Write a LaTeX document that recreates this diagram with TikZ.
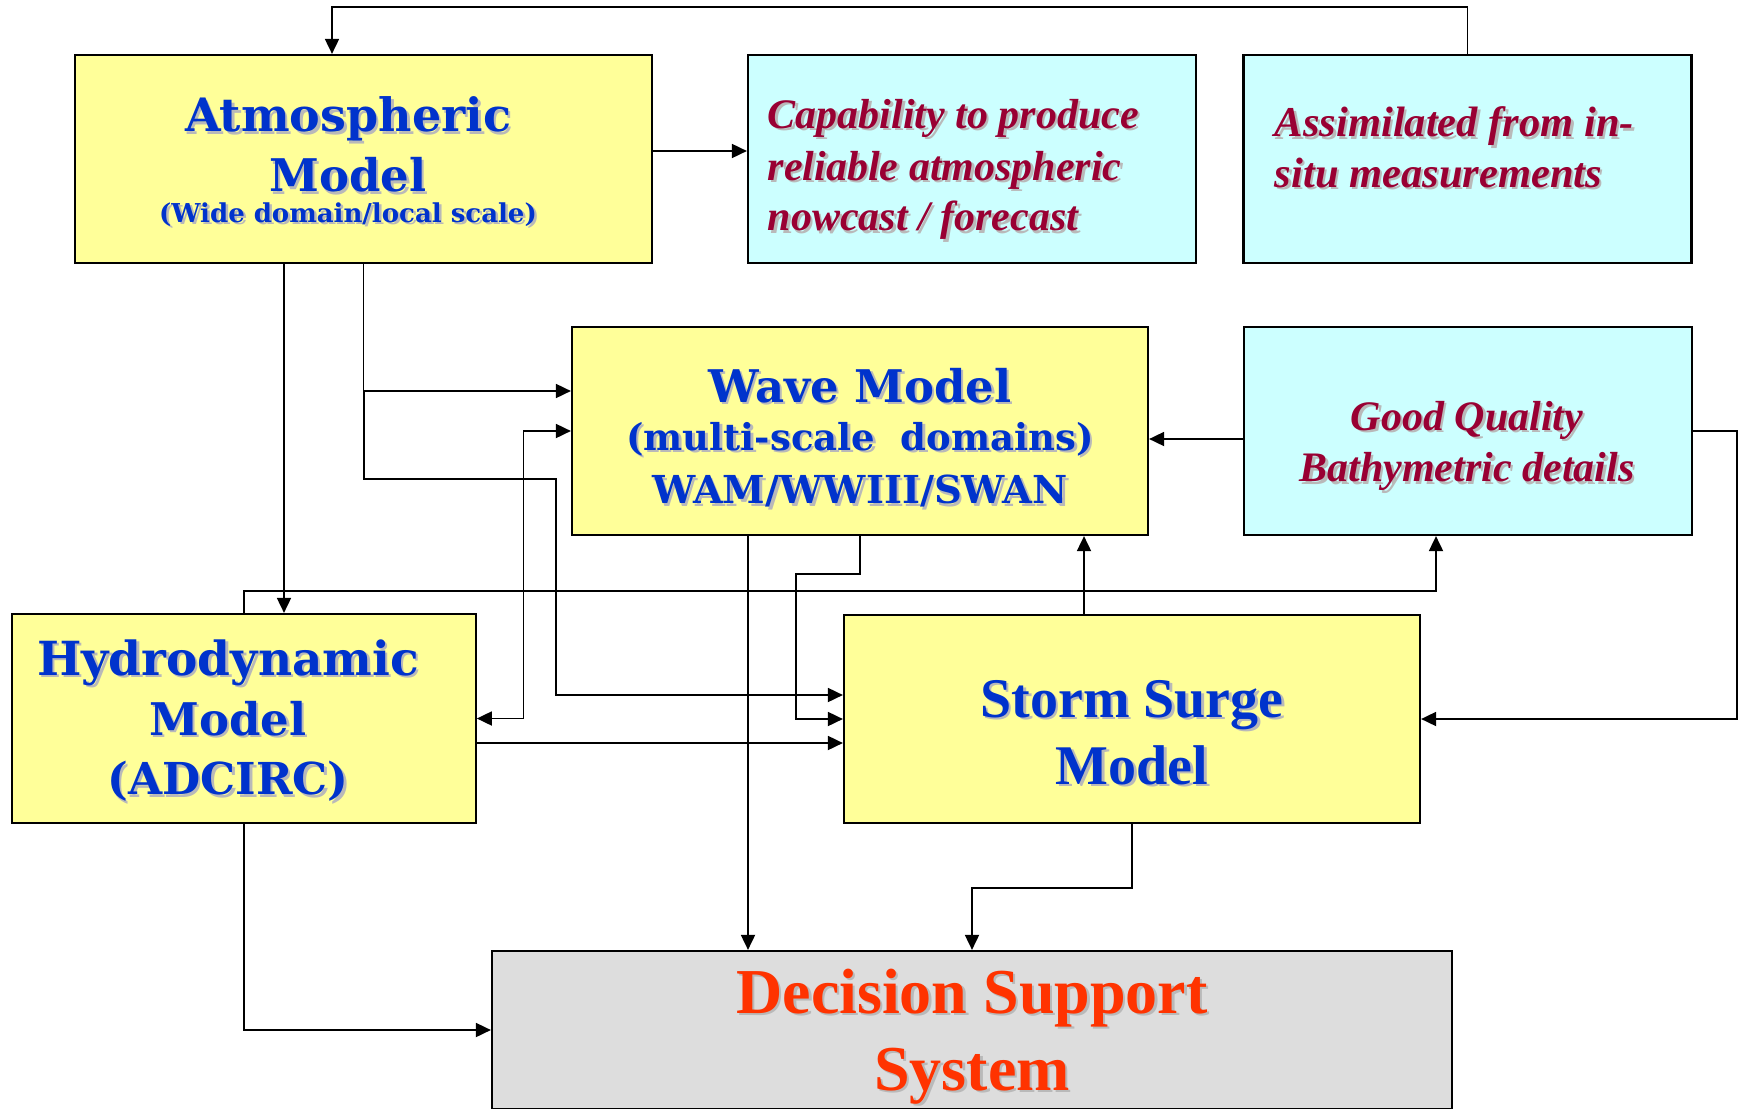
\documentclass[tikz,border=0pt]{standalone}
\usepackage{fontspec}
\setmainfont{Liberation Serif}
\newfontfamily\slabfont{DejaVu Serif}
\usetikzlibrary{arrows.meta}
\definecolor{boxYel}{RGB}{255,255,153}
\definecolor{boxCyan}{RGB}{204,255,255}
\definecolor{boxGray}{RGB}{221,221,221}
\definecolor{tBlue}{RGB}{0,51,204}
\definecolor{tWine}{RGB}{153,0,51}
\definecolor{tFire}{RGB}{255,51,0}
\definecolor{shade}{RGB}{185,185,185}
% soft drop shadow behind a word
\newcommand{\shd}[1]{\leavevmode\rlap{\kern2.5pt\raisebox{-2.5pt}{\textcolor{shade}{#1}}}#1}

\begin{document}
\begin{tikzpicture}[
  x=1pt, y=-1pt,
  >={Triangle[length=15pt,width=14pt]},
  line width=1.8pt,
  model/.style={draw=black, line width=2.2pt, fill=boxYel, inner sep=0pt},
  facts/.style={draw=black, line width=2.2pt, fill=boxCyan, inner sep=0pt, minimum width=448pt, minimum height=208pt},
  dssbox/.style={draw=black, line width=2.2pt, fill=boxGray, inner sep=0pt},
  mtxt/.style={anchor=base, inner sep=0pt, text=tBlue, font=\slabfont\bfseries\fontsize{46}{46}\selectfont},
  stxt/.style={anchor=base, inner sep=0pt, text=tBlue, font=\bfseries\fontsize{56}{56}\selectfont},
  rtxt/.style={anchor=base west, inner sep=0pt, text=tWine, font=\bfseries\itshape\fontsize{42}{42}\selectfont},
  dtxt/.style={anchor=base, inner sep=0pt, text=tFire, font=\bfseries\fontsize{64}{64}\selectfont},
]
\useasboundingbox (0,0) rectangle (1739,1108);

% ---- boxes ----
\node[model, minimum width=577pt, minimum height=208pt] (atm) at (363.5,159) {};
\node[facts] (cap) at (972,159) {};
\node[facts] (assim) at (1467.5,159) {};
\node[model, minimum width=576pt, minimum height=208pt] (wave) at (860,431) {};
\node[facts] (good) at (1468,431) {};
\node[model, minimum width=464pt, minimum height=209pt] (hydro) at (243.75,718.5) {};
\node[model, minimum width=576pt, minimum height=208pt] (storm) at (1132,719) {};
\node[dssbox, minimum width=960pt, minimum height=158pt] (dss) at (972,1030) {};

% ---- model texts ----
\node[mtxt] (atmA) at (348,131.7) {\shd{Atmospheric}};
\node[mtxt, font=\slabfont\bfseries\fontsize{45}{45}\selectfont] (atmB) at (348,191.7) {\shd{Model}};
\node[mtxt, font=\slabfont\bfseries\fontsize{26}{26}\selectfont] (atmC) at (348,222) {\shd{(Wide domain/local scale)}};
\node[mtxt, font=\slabfont\bfseries\fontsize{45}{45}\selectfont] (waveA) at (860,402) {\shd{Wave Model}};
\node[mtxt, font=\slabfont\bfseries\fontsize{37}{37}\selectfont] (waveB) at (860,450) {\shd{(multi-scale\ \ domains)}};
\node[mtxt, font=\slabfont\bfseries\fontsize{38.5}{38.5}\selectfont] (waveC) at (860,503.6) {\shd{WAM/WWIII/SWAN}};
\node[mtxt, font=\slabfont\bfseries\fontsize{47}{47}\selectfont] (hydA) at (228,675) {\shd{Hydrodynamic}};
\node[mtxt, font=\slabfont\bfseries\fontsize{45}{45}\selectfont] (hydB) at (228,735) {\shd{Model}};
\node[mtxt, font=\slabfont\bfseries\fontsize{44}{44}\selectfont] (hydC) at (228,794.6) {\shd{(ADCIRC)}};
\node[stxt] (stoA) at (1132,717) {\shd{Storm Surge}};
\node[stxt] (stoB) at (1132,784) {\shd{Model}};
\node[dtxt] (dssA) at (972,1013) {\shd{Decision Support}};
\node[dtxt] (dssB) at (972,1090) {\shd{System}};

% ---- input texts ----
\node[rtxt] (capA) at (767,128.3) {\shd{Capability to produce}};
\node[rtxt] (capB) at (767,180) {\shd{reliable atmospheric}};
\node[rtxt] (capC) at (767,230.5) {\shd{nowcast / forecast}};
\node[rtxt, font=\bfseries\itshape\fontsize{42.5}{42.5}\selectfont] (asmA) at (1274,136.5) {\shd{Assimilated from in-}};
\node[rtxt, font=\bfseries\itshape\fontsize{42.5}{42.5}\selectfont] (asmB) at (1274,187.4) {\shd{situ measurements}};
\node[rtxt, anchor=base] (gooA) at (1467,430) {\shd{Good Quality}};
\node[rtxt, anchor=base] (gooB) at (1467,481.5) {\shd{Bathymetric details}};

% ---- connectors ----
\coordinate (topbend) at (332,7);
\coordinate (hx) at (523.5,0);
\coordinate (rx) at (1737,0);
\draw[->] (assim.north) |- (topbend) -- (topbend |- atm.north);
\draw[->] (atm.east |- 0,151) -- (cap.west |- 0,151);
\draw[->] (atm.south -| 284,0) -- (hydro.north -| 284,0);
\draw[->] (atm.south) |- (wave.west |- 0,391);
\draw[->] (364,391) |- (556,479) |- (storm.west |- 0,695);
\draw[<->] (hydro.east) -| (hx |- wave.west) -- (wave.west);
\draw[->] (hydro.east |- 0,743) -- (storm.west |- 0,743);
\draw[->] (wave.south) |- (796,574) |- (storm.west);
\draw[->] (wave.south -| 748,0) -- (dss.north -| 748,0);
\draw[->] (hydro.north) |- (1436,591) -- (good.south -| 1436,0);
\draw[->] (storm.north -| 1084,0) -- (wave.south -| 1084,0);
\draw[->] (good.west |- 0,439) -- (wave.east |- 0,439);
\draw[->] (good.east) -| (rx |- storm.east) -- (storm.east);
\draw[->] (storm.south) -- ++(0,64) -| (dss.north);
\draw[->] (hydro.south) |- (dss.west);

\end{tikzpicture}
\end{document}
